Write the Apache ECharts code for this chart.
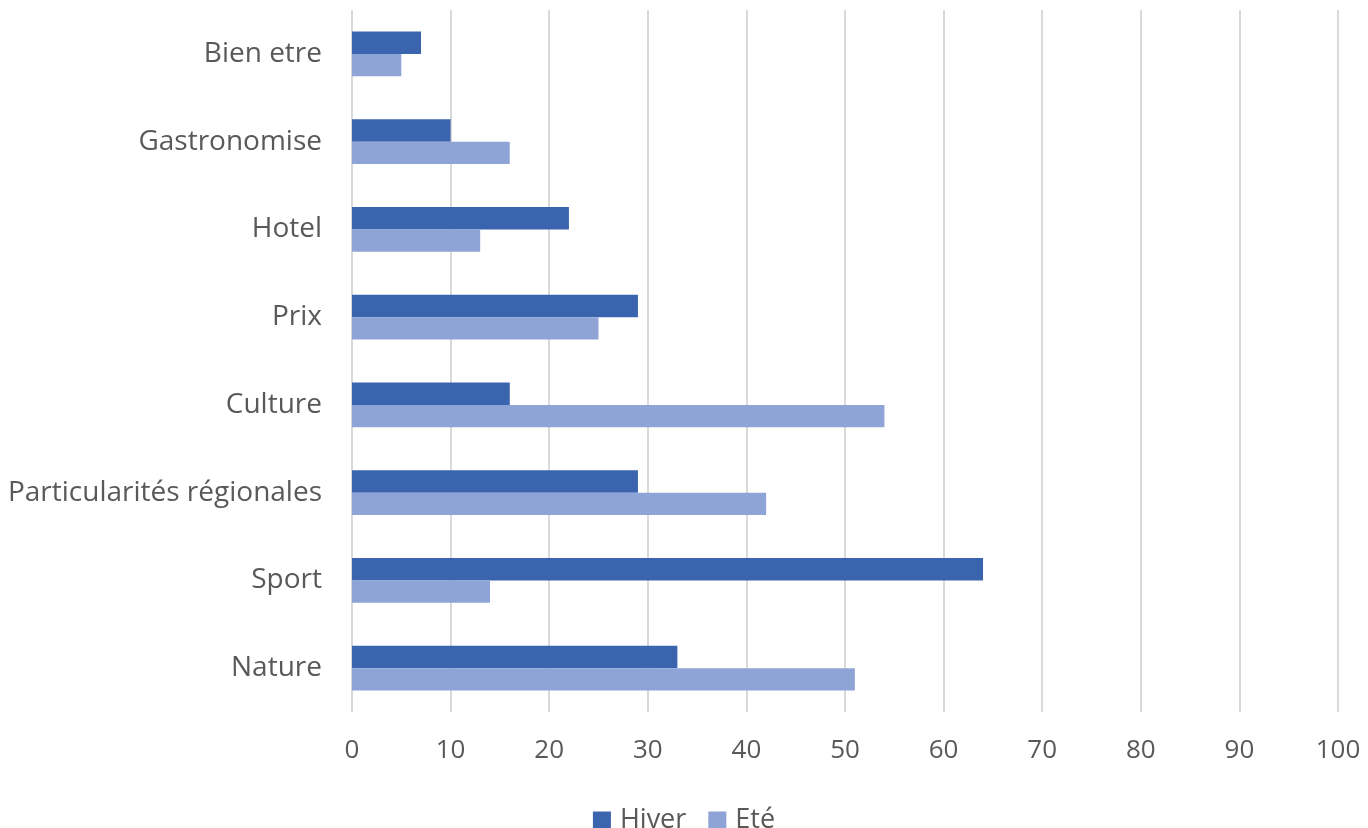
<!DOCTYPE html>
<html>
<head>
<meta charset="utf-8">
<script src="https://cdn.jsdelivr.net/npm/echarts@6/dist/echarts.min.js"></script>
<style>
html,body{margin:0;padding:0;background:#fff;}
#chart{width:1368px;height:828px;}
</style>
</head>
<body>
<div id="chart"></div>
<script>
const categories = ["Nature", "Sport", "Particularités régionales", "Culture", "Prix", "Hotel", "Gastronomise", "Bien etre"];
const hiver = [33, 64, 29, 16, 29, 22, 10, 7];
const ete = [51, 14, 42, 54, 25, 13, 16, 5];
const seriesNames = ["Hiver", "Eté"];

const chart = echarts.init(document.getElementById('chart'));
const font = "'Open Sans', 'Noto Sans', sans-serif";
chart.setOption({
  animation: false,
  grid: {left: 352, right: 30, top: 10, bottom: 116, containLabel: false},
  legend: {
    data: seriesNames,
    top: 802,
    left: 'center',
    itemWidth: 18,
    itemHeight: 18,
    itemGap: 22,
    icon: 'rect',
    textStyle: {fontSize: 27, color: '#595959', fontFamily: font, padding: [0, 0, 0, 4]}
  },
  xAxis: {
    type: 'value',
    min: 0, max: 100, interval: 10,
    axisLine: {show: false},
    axisTick: {show: false},
    splitLine: {lineStyle: {color: '#d9d9d9', width: 2}},
    axisLabel: {fontSize: 26, color: '#595959', fontFamily: font, margin: 26}
  },
  yAxis: {
    type: 'category',
    data: categories,
    axisLine: {show: false},
    axisTick: {show: false},
    axisLabel: {fontSize: 28, color: '#595959', fontFamily: font, margin: 30, padding: [5, 0, 0, 0]}
  },
  series: [
    {name: seriesNames[0], type: 'bar', data: hiver, itemStyle: {color: '#3A64AE'}, barGap: '0%', barCategoryGap: '49%'},
    {name: seriesNames[1], type: 'bar', data: ete, itemStyle: {color: '#8FA4D6'}, barGap: '0%', barCategoryGap: '49%'}
  ]
});
</script>
</body>
</html>
